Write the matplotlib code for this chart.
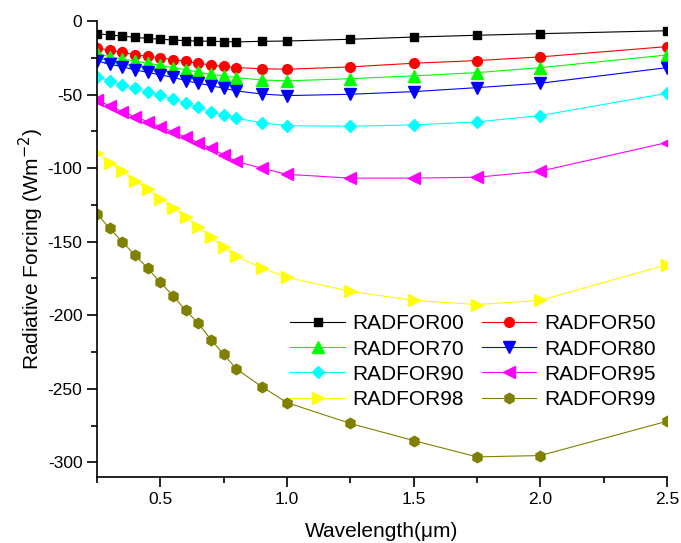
import numpy as np
import matplotlib
matplotlib.use("Agg")
import matplotlib.pyplot as plt
from matplotlib.ticker import MultipleLocator

plt.rcParams['font.family'] = ['Liberation Sans', 'DejaVu Sans']
plt.rcParams['axes.unicode_minus'] = False

# wavelength points (um)
wavelength = [0.25, 0.3, 0.35, 0.4, 0.45, 0.5, 0.55, 0.6, 0.65, 0.7, 0.75, 0.8,
              0.9, 1.0, 1.25, 1.5, 1.75, 2.0, 2.5]

# radiative forcing (W m-2)
radfor00 = [-8.6, -9.5, -10.2, -11.1, -11.8, -12.4, -12.9, -13.4, -13.6, -13.8, -14.0, -14.2,
            -13.8, -13.6, -12.4, -10.9, -9.7, -8.6, -6.6]
radfor50 = [-18.3, -19.9, -21.3, -22.9, -24.0, -25.1, -26.3, -27.4, -28.7, -29.9, -30.8, -31.7,
            -32.4, -32.8, -31.2, -28.7, -26.9, -24.4, -17.4]
radfor70 = [-22.0, -24.2, -25.8, -27.2, -28.7, -30.1, -31.7, -33.1, -34.8, -36.2, -37.3, -38.5,
            -40.1, -40.7, -39.2, -37.3, -35.1, -31.7, -23.1]
radfor80 = [-27.0, -29.4, -31.0, -33.3, -34.8, -36.7, -38.2, -40.5, -42.3, -43.9, -45.7, -47.5,
            -49.6, -50.7, -49.8, -48.0, -45.3, -42.3, -31.7]
radfor90 = [-37.8, -40.5, -43.5, -45.7, -48.0, -50.5, -53.0, -55.9, -58.6, -61.8, -63.8, -66.1,
            -69.1, -71.2, -71.5, -70.6, -68.6, -64.3, -49.1]
radfor95 = [-53.6, -57.7, -61.6, -65.0, -68.4, -71.8, -75.2, -79.0, -82.6, -86.4, -91.0, -95.5,
            -100.0, -104.2, -106.8, -106.8, -106.2, -102.1, -82.6]
radfor98 = [-89.4, -96.2, -102.3, -108.6, -114.3, -121.0, -127.1, -133.3, -140.3, -146.9, -153.7, -160.0,
            -167.9, -174.3, -183.8, -189.9, -192.8, -189.9, -165.7]
radfor99 = [-131.0, -141.0, -150.1, -159.1, -168.0, -177.7, -186.7, -196.7, -205.5, -216.6, -226.6, -236.5,
            -248.5, -259.4, -273.6, -285.2, -296.3, -295.4, -272.1]

series = [
    ('RADFOR00', radfor00, 'black', 's', 6),
    ('RADFOR50', radfor50, '#ff0000', 'o', 7),
    ('RADFOR70', radfor70, '#00ff00', '^', 8),
    ('RADFOR80', radfor80, '#0000ff', 'v', 8),
    ('RADFOR90', radfor90, '#00ffff', 'D', 6),
    ('RADFOR95', radfor95, '#ff00ff', '<', 8),
    ('RADFOR98', radfor98, '#ffff00', '>', 8),
    ('RADFOR99', radfor99, '#808000', 'h', 7.5),
]

fig = plt.figure(figsize=(6.81, 5.43), dpi=100)
ax = fig.add_axes([0.1424, 0.1215, 0.837, 0.8398])

lines = []
for name, vals, col, mk, ms in series:
    ln, = ax.plot(wavelength, vals, color=col, marker=mk, markersize=ms, linewidth=0.8,
                  markeredgecolor=col, markerfacecolor=col, label=name)
    lines.append(ln)

ax.set_xlim(0.25, 2.5)
ax.set_ylim(-310, 0)
ax.xaxis.set_major_locator(MultipleLocator(0.5))
ax.xaxis.set_minor_locator(MultipleLocator(0.25))
ax.yaxis.set_major_locator(MultipleLocator(50))
ax.yaxis.set_minor_locator(MultipleLocator(25))
ax.xaxis.set_major_formatter(matplotlib.ticker.FormatStrFormatter('%.1f'))

ax.spines['top'].set_visible(False)
ax.spines['right'].set_visible(False)
ax.spines['left'].set_linewidth(1.2)
ax.spines['bottom'].set_linewidth(1.2)
ax.tick_params(which='major', direction='out', length=7, width=1.2, labelsize=12.5, pad=3.5)
ax.tick_params(which='minor', direction='out', length=4.5, width=1.2)

ax.set_xlabel('Wavelength(\u03bcm)', fontsize=15, labelpad=11)
ax.set_ylabel('Radiative Forcing (Wm$^{-2}$)', fontsize=15, labelpad=1)

# legend filled row by row like the original
order = [0, 2, 4, 6, 1, 3, 5, 7]
ax.legend([lines[i] for i in order], [series[i][0] for i in order],
          ncol=2, frameon=False, fontsize=15, loc='center', bbox_to_anchor=(0.66, 0.253),
          handlelength=2.6, handletextpad=0.38, columnspacing=0.86, labelspacing=0.3,
          borderaxespad=0)

fig.savefig('out.png', dpi=100)
